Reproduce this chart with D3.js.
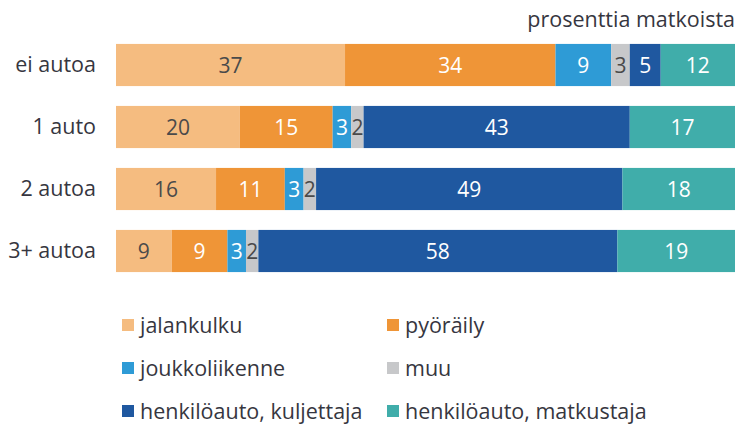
<!DOCTYPE html>
<html>
<head>
<meta charset="utf-8">
<script src="https://cdn.jsdelivr.net/npm/d3@7"></script>
<style>
  body { margin: 0; background: #fff; }
  svg { display: block; }
</style>
</head>
<body>
<svg id="chart" width="735" height="428"></svg>
<script>
// categories (rows)
var rows = ["ei autoa", "1 auto", "2 autoa", "3+ autoa"];
// modes (series)
var modes = ["jalankulku", "pyöräily", "joukkoliikenne", "muu", "henkilöauto, kuljettaja", "henkilöauto, matkustaja"];
var colors = ["#f5bc80", "#ef9537", "#2e9bd6", "#c7c8ca", "#1f58a0", "#40adaa"];
var textColors = ["#4a4a4a", "#ffffff", "#ffffff", "#4a4a4a", "#ffffff", "#ffffff"];

// values per series, in row order
var jalankulku = [37, 20, 16, 9];
var pyoraily = [34, 15, 11, 9];
var joukkoliikenne = [9, 3, 3, 3];
var muu = [3, 2, 2, 2];
var kuljettaja = [5, 43, 49, 58];
var matkustaja = [12, 17, 18, 19];

var series = [jalankulku, pyoraily, joukkoliikenne, muu, kuljettaja, matkustaja];

var table = rows.map(function(r, i) {
    var o = { row: r };
    modes.forEach(function(m, j) { o[m] = series[j][i]; });
    return o;
});

var svg = d3.select("#chart");
var font = "'Open Sans', sans-serif";
var ink = "#363640";

var x = d3.scaleLinear().domain([0, 1]).range([116, 735]);
var y = d3.scaleBand().domain(rows).range([34, 282]).paddingInner(0.32).paddingOuter(0.16);

var stack = d3.stack().keys(modes).offset(d3.stackOffsetExpand);
var stacked = stack(table);

// title
svg.append("text")
    .attr("x", 735).attr("y", 27)
    .attr("text-anchor", "end")
    .attr("font-family", font).attr("font-size", 21.5)
    .attr("fill", ink)
    .text("prosenttia matkoista");

var groups = svg.selectAll("g.serie").data(stacked).enter()
    .append("g").attr("class", "serie");

groups.selectAll("rect").data(function(d) { return d; }).enter()
    .append("rect")
    .attr("x", function(d) { return x(d[0]); })
    .attr("y", function(d) { return y(d.data.row); })
    .attr("width", function(d) { return x(d[1]) - x(d[0]); })
    .attr("height", y.bandwidth())
    .attr("fill", function(d) { return colors[modes.indexOf(d3.select(this.parentNode).datum().key)]; });

groups.each(function(s, j) {
    d3.select(this).selectAll("text").data(s).enter()
        .append("text")
        .attr("x", function(d) { return (x(d[0]) + x(d[1])) / 2; })
        .attr("y", function(d) { return y(d.data.row) + y.bandwidth() / 2; })
        .attr("dy", "0.38em")
        .attr("text-anchor", "middle")
        .attr("font-family", "'Liberation Sans Narrow', 'Open Sans', sans-serif")
        .attr("font-size", 21)
        .attr("fill", textColors[j])
        .text(function(d) { return d.data[s.key]; });
});

// row labels
var yAxis = d3.axisLeft(y).tickSize(0).tickPadding(0);
var ax = svg.append("g").attr("transform", "translate(96,0)").call(yAxis);
ax.select(".domain").remove();
ax.selectAll("text")
    .attr("font-family", font).attr("font-size", 21.5)
    .attr("fill", ink);

// legend
var legend = svg.selectAll("g.leg").data(modes).enter()
    .append("g").attr("class", "leg")
    .attr("transform", function(d, i) {
        return "translate(" + (i % 2 === 0 ? 122 : 387) + "," + (325 + Math.floor(i / 2) * 43) + ")";
    });
legend.append("rect")
    .attr("x", 0).attr("y", -6).attr("width", 12).attr("height", 12)
    .attr("fill", function(d, i) { return colors[i]; });
legend.append("text")
    .attr("x", 18).attr("dy", "0.35em")
    .attr("font-family", font).attr("font-size", 21.5)
    .attr("fill", ink)
    .text(function(d) { return d; });
</script>
</body>
</html>
